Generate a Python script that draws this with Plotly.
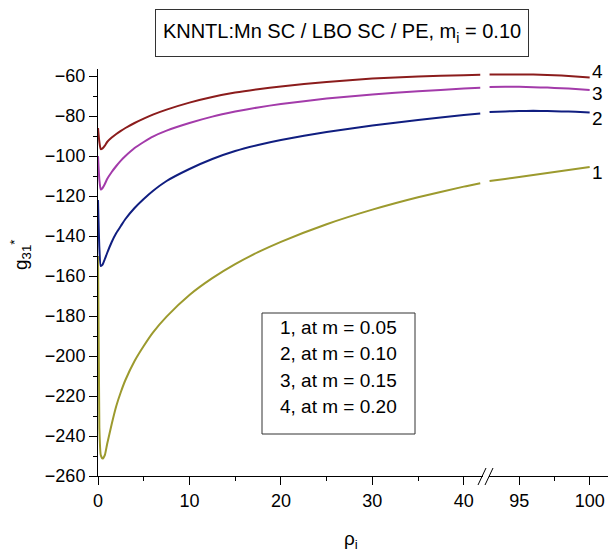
import plotly.graph_objects as go

# ---- data ----
rho_left = [0, 0.15, 0.3, 0.5, 0.75, 1, 1.5, 2, 2.5, 3, 4, 5, 6, 7.5, 10, 12.5, 15, 17.5, 20, 25, 30, 35, 40, 41.8]
rho_right = [92.9, 94, 95, 96, 97, 98, 99, 100]

g_m005_left = [-150, -236, -249.5, -251.3, -249.5, -244, -234, -225, -218, -212, -202.5, -195, -188.3, -180.3,
               -169.5, -161.1, -154.1, -148.1, -142.9, -134.1, -126.8, -120.6, -115.3, -113.6]
g_m010_left = [-122, -146, -155, -154.3, -151.5, -148.5, -143, -138.5, -135, -131.5, -126, -121.5, -117.5, -112.5,
               -106.5, -101.5, -97.5, -94.5, -92, -88, -84.8, -82, -79.5, -78.7]
g_m015_left = [-100, -112, -116.8, -116, -114, -111.5, -108, -105, -102.3, -100, -96, -93, -90.3, -87.3,
               -83.5, -80.3, -77.8, -75.7, -74, -71.3, -69.2, -67.6, -66.3, -65.9]
g_m020_left = [-86, -93, -96.6, -96.2, -94.8, -93, -90.8, -89, -87.4, -86, -83.5, -81.3, -79.3, -76.8,
               -73.3, -70.5, -68.3, -66.6, -65.2, -63, -61.3, -60.2, -59.6, -59.4]

g_m005_right = [-112.5, -111.5, -110.5, -109.5, -108.5, -107.5, -106.5, -105.5]
g_m010_right = [-78.0, -77.7, -77.5, -77.4, -77.5, -77.7, -77.9, -78.2]
g_m015_right = [-65.5, -65.4, -65.4, -65.6, -65.8, -66.1, -66.5, -67.0]
g_m020_right = [-59.3, -59.2, -59.2, -59.3, -59.5, -59.8, -60.2, -60.7]

curve_labels = ["1", "2", "3", "4"]
m_values = ["0.05", "0.10", "0.15", "0.20"]
colors = ["#9c9a2e", "#101e80", "#a33baa", "#8b1c1c"]
lefts = [g_m005_left, g_m010_left, g_m015_left, g_m020_left]
rights = [g_m005_right, g_m010_right, g_m015_right, g_m020_right]

title_text = "KNNTL:Mn SC / LBO SC / PE, m<sub>i</sub> = 0.10"

# ---- layout geometry ----
W, H = 608, 556
L, R, T, B = 98, 0, 69, 80
pw, ph = W - L - R, H - T - B

def px(x):
    return (x - L) / pw

def py(y):
    return (H - B - y) / ph

FONT = "Arial, Liberation Sans, sans-serif"

fig = go.Figure()
for c, lv, rv in zip(colors, lefts, rights):
    fig.add_trace(go.Scatter(x=rho_left, y=lv, xaxis="x", yaxis="y", mode="lines",
                             line=dict(color=c, width=2, shape="spline", smoothing=0.5),
                             showlegend=False, hoverinfo="skip"))
    fig.add_trace(go.Scatter(x=rho_right, y=rv, xaxis="x2", yaxis="y", mode="lines",
                             line=dict(color=c, width=2, shape="spline", smoothing=0.5),
                             showlegend=False, hoverinfo="skip"))

axis_common = dict(showline=True, linecolor="black", linewidth=1, ticks="outside",
                   ticklen=8, tickwidth=1, tickcolor="black", showgrid=False,
                   zeroline=False, tickfont=dict(family=FONT, size=18, color="black"))

fig.update_layout(
    width=W, height=H, margin=dict(l=L, r=R, t=T, b=B),
    paper_bgcolor="white", plot_bgcolor="white",
    font=dict(family=FONT, color="black"),
    xaxis=dict(domain=[0, px(483)], range=[0, 42.1], tick0=0, dtick=10, anchor="y",
               minor=dict(ticks="outside", ticklen=4, dtick=5, tickcolor="black", showgrid=False),
               **axis_common),
    xaxis2=dict(domain=[px(489), 1], range=[92.86, 101.3], tick0=0, dtick=5, anchor="y",
                minor=dict(ticks="outside", ticklen=4, dtick=2.5, tickcolor="black", showgrid=False),
                **axis_common),
    yaxis=dict(domain=[0, 1], range=[-260, -56.5], tick0=0, dtick=20,
               minor=dict(ticks="outside", ticklen=4, dtick=10, tickcolor="black", showgrid=False),
               **axis_common),
)

ann = []
# title box
ann.append(dict(x=px(342), y=py(33), xref="paper", yref="paper", text=title_text,
                showarrow=False, font=dict(family=FONT, size=20, color="black"),
                bordercolor="#333333", borderwidth=1, borderpad=0, bgcolor="white",
                width=372, height=46, xanchor="center", yanchor="middle"))
# axis titles
ann.append(dict(x=px(351), y=py(540), xref="paper", yref="paper", text="ρ<sub>i</sub>",
                showarrow=False, font=dict(family=FONT, size=19, color="black"),
                xanchor="center", yanchor="middle"))
ann.append(dict(x=px(20), y=py(255), xref="paper", yref="paper",
                text="g<sub>31</sub><sup>*</sup>", textangle=-90,
                showarrow=False, font=dict(family=FONT, size=19, color="black"),
                xanchor="center", yanchor="middle"))
# curve number labels at right end
label_y = [172, 118, 93, 71]
for lab, yy in zip(curve_labels, label_y):
    ann.append(dict(x=px(597), y=py(yy), xref="paper", yref="paper", text=lab,
                    showarrow=False, font=dict(family=FONT, size=19, color="black"),
                    xanchor="center", yanchor="middle"))
# legend text lines
leg_y = [327, 353.5, 380, 406.5]
for lab, m, yy in zip(curve_labels, m_values, leg_y):
    ann.append(dict(x=px(338.5), y=py(yy), xref="paper", yref="paper",
                    text=f"{lab}, at m = {m}", showarrow=False,
                    font=dict(family=FONT, size=19, color="black"),
                    xanchor="center", yanchor="middle"))
fig.update_layout(annotations=ann)

shapes = [
    dict(type="rect", xref="paper", yref="paper", x0=px(262), x1=px(415), y0=py(434), y1=py(313),
         line=dict(color="#333333", width=1), fillcolor="rgba(0,0,0,0)", layer="above"),
    dict(type="line", xref="paper", yref="paper", x0=px(478), y0=py(485), x1=px(486), y1=py(468),
         line=dict(color="black", width=1)),
    dict(type="line", xref="paper", yref="paper", x0=px(485), y0=py(485), x1=px(493), y1=py(468),
         line=dict(color="black", width=1)),
]
fig.update_layout(shapes=shapes)

fig.write_html("out.html")
